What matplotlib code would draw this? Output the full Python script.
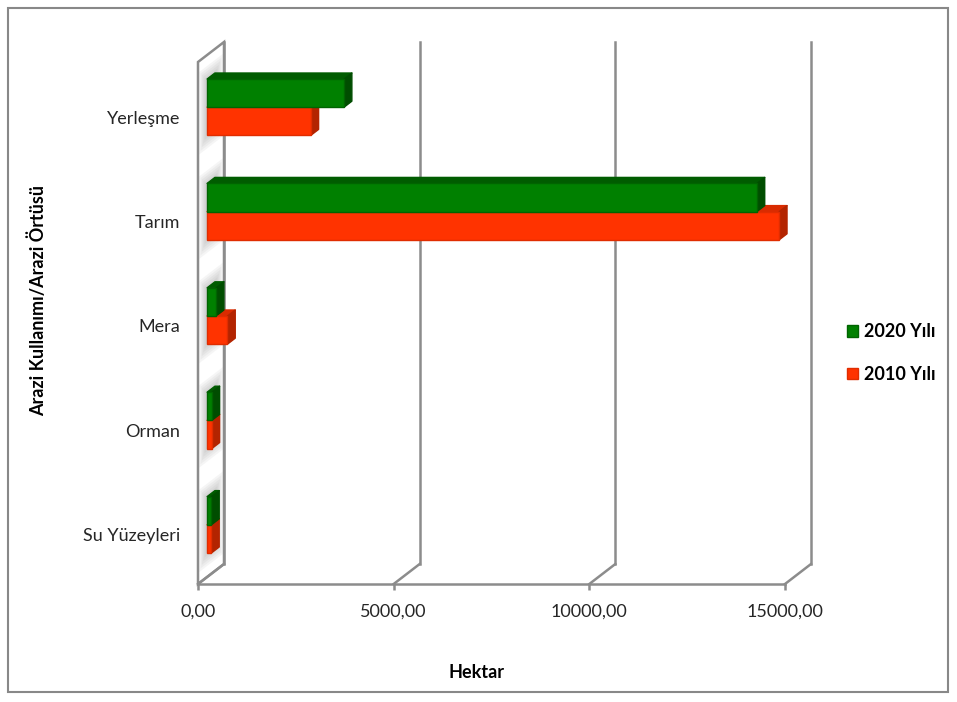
import matplotlib
matplotlib.use("Agg")
import matplotlib.pyplot as plt
from matplotlib.patches import Polygon, Rectangle, Patch
from matplotlib.transforms import IdentityTransform, ScaledTranslation
import numpy as np

# ---- data -------------------------------------------------------------
categories = ["Yerleşme", "Tarım", "Mera", "Orman", "Su Yüzeyleri"]
series_names = ["2020 Yılı", "2010 Yılı"]
values_2020 = [3500, 14050, 230, 120, 110]
values_2010 = [2650, 14620, 520, 120, 110]
x_ticks = [0, 5000, 10000, 15000]
x_tick_labels = ["0,00", "5000,00", "10000,00", "15000,00"]
x_label = "Hektar"
y_label = "Arazi Kullanımı/Arazi Örtüsü"

# ---- style ------------------------------------------------------------
GREEN = dict(front="#008000", top="#005c00", side="#004d00", edge="#006400")
RED = dict(front="#ff3300", top="#d92b00", side="#b32400", edge="#e02d00")
GRID = "#8c8c8c"
FS = 13

plt.rcParams["font.family"] = ["Lato", "DejaVu Sans"]

W, H, DPI = 957, 702, 100
fig = plt.figure(figsize=(W / DPI, H / DPI), dpi=DPI)

# front plane of the 3-D plot box
ax = fig.add_axes([198 / W, 1 - 584 / H, (785 - 198) / W, (584 - 62) / H])
ax.set_xlim(x_ticks[0], x_ticks[-1])
n = len(categories)
ax.set_ylim(-0.5, n - 0.5)
ypos = np.arange(n)[::-1]
ax.patch.set_visible(False)

DEPTH = np.array([26.0, 20.0])   # depth vector of the box in pixels
D0, D1 = 0.35, 0.65              # depth range occupied by the bars
BAR_H = 0.27


def proj(x, y, d):
    return ax.transData.transform((x, y)) + d * DEPTH


def poly(points, **kw):
    p = Polygon(np.array(points), closed=True, transform=IdentityTransform(),
                clip_on=False, **kw)
    ax.add_artist(p)
    return p


def seg(p, q, **kw):
    p, q = np.asarray(p), np.asarray(q)
    ax.add_artist(plt.Line2D([p[0], q[0]], [p[1], q[1]],
                             transform=IdentityTransform(), clip_on=False, **kw))


y_lo, y_hi = -0.5, n - 0.5

# side wall at x = 0
poly([proj(0, y_lo, 0), proj(0, y_hi, 0), proj(0, y_hi, 1), proj(0, y_lo, 1)],
     facecolor="white", edgecolor=GRID, lw=1.8, zorder=1)

# floor diagonals and back grid lines
for t in x_ticks:
    seg(proj(t, y_lo, 0), proj(t, y_lo, 1), color=GRID, lw=1.8, zorder=1)
    seg(proj(t, y_lo, 1), proj(t, y_hi, 1), color=GRID, lw=1.8, zorder=1)

# soft shadows on the wall behind each bar pair
for yc in ypos:
    for k in range(6):
        e = 0.025 * k
        poly([proj(0, yc - BAR_H - e, D0 - 0.05 - e * 2),
              proj(0, yc + BAR_H + e, D0 - 0.05 - e * 2),
              proj(0, yc + BAR_H + e, D1 + 0.05 + e * 2),
              proj(0, yc - BAR_H - e, D1 + 0.05 + e * 2)],
             facecolor="#606060", edgecolor="none", alpha=0.06, zorder=1.5)

# bars: front faces via barh, top and side faces projected in depth
front_tr = ax.transData + ScaledTranslation(D0 * DEPTH[0] / DPI,
                                            D0 * DEPTH[1] / DPI,
                                            fig.dpi_scale_trans)

for vals, col, sign in [(values_2010, RED, -1), (values_2020, GREEN, +1)]:
    for yc, v in zip(ypos, vals):
        y0 = yc if sign > 0 else yc - BAR_H
        y1 = y0 + BAR_H
        poly([proj(0, y1, D0), proj(v, y1, D0), proj(v, y1, D1), proj(0, y1, D1)],
             facecolor=col["top"], edgecolor=col["top"], lw=1, joinstyle="round",
             zorder=3)
        poly([proj(v, y0, D0), proj(v, y0, D1), proj(v, y1, D1), proj(v, y1, D0)],
             facecolor=col["side"], edgecolor=col["side"], lw=1, joinstyle="round",
             zorder=3)
    ax.barh(ypos + sign * BAR_H / 2, vals, height=BAR_H, color=col["front"],
            edgecolor=col["edge"], linewidth=1.0, transform=front_tr,
            clip_on=False, zorder=4)

# axes decoration
for s in ["left", "right", "top"]:
    ax.spines[s].set_visible(False)
ax.spines["bottom"].set_color(GRID)
ax.spines["bottom"].set_linewidth(1.8)
ax.spines["bottom"].set_zorder(1)

ax.set_xticks(x_ticks)
ax.set_xticklabels(x_tick_labels)
ax.tick_params(axis="x", length=4, width=1.8, color=GRID, pad=10,
               labelsize=FS, labelcolor="#262626")
ax.set_yticks(ypos)
ax.set_yticklabels(categories)
ax.tick_params(axis="y", length=0, pad=13, labelsize=FS, labelcolor="#262626")
shift_down = ScaledTranslation(0, -3 / DPI, fig.dpi_scale_trans)
for lbl in ax.get_yticklabels():
    lbl.set_transform(lbl.get_transform() + shift_down)

fig.text(477 / W, 1 - 672 / H, x_label, ha="center", va="center",
         fontsize=FS, fontweight="bold")
fig.text(38 / W, 1 - 300 / H, y_label, ha="center", va="center",
         rotation=90, fontsize=FS, fontweight="bold")

handles = [Patch(facecolor=GREEN["front"], edgecolor=GREEN["edge"]),
           Patch(facecolor=RED["front"], edgecolor=RED["edge"])]
fig.legend(handles, series_names, loc="center left",
           bbox_to_anchor=(831 / W, 1 - 353 / H), frameon=False,
           handlelength=0.6, handleheight=0.6, handletextpad=0.35,
           labelspacing=1.4, prop=dict(weight="bold", size=FS))

# chart-area border
fig.add_artist(Rectangle((8 / W, 1 - 692 / H), 940 / W, 684 / H,
                         transform=fig.transFigure, fill=False,
                         edgecolor="#888888", lw=1.5))

fig.savefig("out.png", dpi=DPI)
